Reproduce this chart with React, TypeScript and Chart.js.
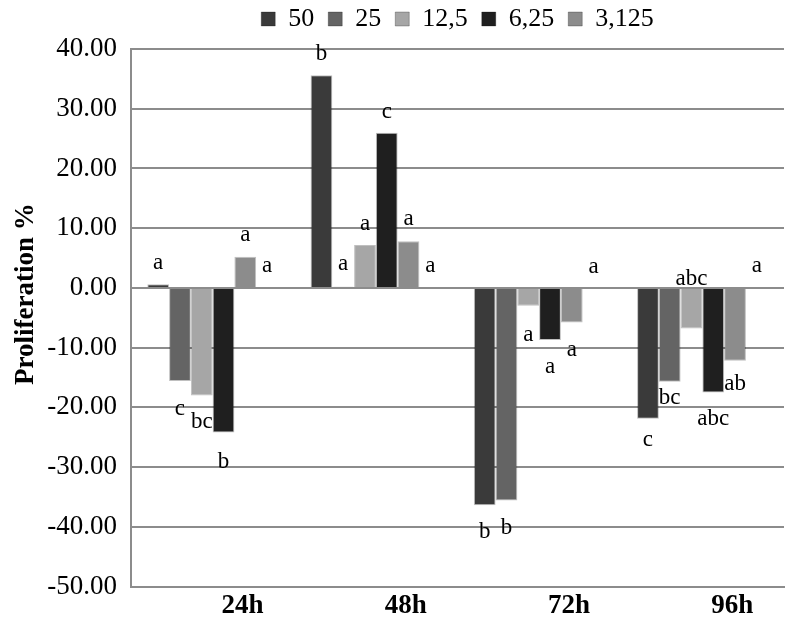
import React, { useEffect, useRef } from "react";
import { Chart, registerables } from "chart.js";

Chart.register(...registerables);

const categories = ["24h", "48h", "72h", "96h"];
const seriesNames = ["50", "25", "12,5", "6,25", "3,125", ""];
const seriesColors = ["#3a3a3a", "#646464", "#a6a6a6", "#1f1f1f", "#8c8c8c", "rgba(0,0,0,0)"];

const s50 = [0.6, 35.6, -36.4, -21.9];
const s25 = [-15.6, 0.2, -35.6, -15.7];
const s12_5 = [-18.0, 7.2, -3.0, -6.8];
const s6_25 = [-24.2, 26.0, -8.7, -17.5];
const s3_125 = [5.2, 7.8, -5.8, -12.2];
const sControl = [0, 0, 0, 0];
const seriesValues = [s50, s25, s12_5, s6_25, s3_125, sControl];

// significance letters per series (per category) and their anchor values (data units)
const letters50 = ["a", "b", "b", "c"];
const letters25 = ["c", "a", "b", "bc"];
const letters12_5 = ["bc", "a", "a", "abc"];
const letters6_25 = ["b", "c", "a", "abc"];
const letters3_125 = ["a", "a", "a", "ab"];
const lettersControl = ["a", "a", "a", "a"];
const letterSets = [letters50, letters25, letters12_5, letters6_25, letters3_125, lettersControl];

const letterY50 = [4.2, 39.2, -40.9, -25.5];
const letterY25 = [-20.2, 4.0, -40.1, -18.5];
const letterY12_5 = [-22.5, 10.7, -7.8, 1.5];
const letterY6_25 = [-29.2, 29.5, -13.2, -22.0];
const letterY3_125 = [8.8, 11.5, -10.4, -16.0];
const letterYControl = [3.7, 3.7, 3.5, 3.7];
const letterYSets = [letterY50, letterY25, letterY12_5, letterY6_25, letterY3_125, letterYControl];

const yTickMin = -50;
const yTickMax = 40;
const yTickStep = 10;
const yTitle = "Proliferation %";

const SERIF = "'Liberation Serif', 'Times New Roman', serif";

const lettersPlugin = {
  id: "letters",
  afterDatasetsDraw(chart: any) {
    const ctx = chart.ctx;
    const yScale = chart.scales.y;
    ctx.save();
    ctx.fillStyle = "#000";
    ctx.font = `23px ${SERIF}`;
    ctx.textAlign = "center";
    ctx.textBaseline = "middle";
    letterSets.forEach((set, i) => {
      const meta = chart.getDatasetMeta(i);
      set.forEach((txt, j) => {
        const el = meta.data[j];
        if (!el) return;
        ctx.fillText(txt, el.x, yScale.getPixelForValue(letterYSets[i][j]));
      });
    });
    ctx.restore();
  },
};

const legendSpacer = {
  id: "legendSpacer",
  beforeInit(chart: any) {
    const legend = chart.legend;
    if (!legend) return;
    const origFit = legend.fit;
    legend.fit = function () {
      origFit.call(this);
      this.height += 7;
    };
  },
};

export default function App() {
  const ref = useRef<HTMLCanvasElement>(null);
  useEffect(() => {
    document.body.style.margin = "0";
    const chart = new Chart(ref.current!, {
      type: "bar",
      data: {
        labels: categories,
        datasets: seriesValues.map((vals, i) => ({
          label: seriesNames[i],
          data: vals,
          backgroundColor: seriesColors[i],
          borderColor: i === 5 ? "rgba(0,0,0,0)" : "rgba(0,0,0,0.25)",
          borderWidth: 1,
          barPercentage: 1,
          categoryPercentage: 0.8,
        })),
      },
      options: {
        responsive: false,
        animation: false,
        layout: { padding: { left: 0, right: 3, top: -8, bottom: 1 } },
        plugins: {
          tooltip: { enabled: false },
          legend: {
            position: "top",
            fullSize: false,
            labels: {
              filter: (item: any) => item.text !== "",
              boxWidth: 14,
              boxHeight: 14,
              color: "#000",
              font: { family: SERIF, size: 26 },
              padding: 14,
            },
          },
        },
        scales: {
          x: {
            grid: { display: false, drawTicks: false },
            border: { color: "#8c8c8c", width: 2 },
            ticks: {
              color: "#000",
              font: { family: SERIF, size: 27, weight: "bold" },
              labelOffset: 30,
              padding: 3,
            },
          },
          y: {
            min: yTickMin,
            max: yTickMax,
            afterFit: (scale: any) => {
              scale.width = 131;
            },
            grid: { color: "#8c8c8c", lineWidth: 2, drawTicks: false },
            border: { color: "#8c8c8c", width: 2 },
            ticks: {
              stepSize: yTickStep,
              color: "#000",
              font: { family: SERIF, size: 27 },
              padding: 14,
              callback: (v: any) => Number(v).toFixed(2),
            },
            title: {
              display: true,
              text: "\u00a0\u00a0\u00a0\u00a0\u00a0\u00a0\u00a0" + yTitle,
              color: "#000",
              font: { family: SERIF, size: 27, weight: "bold" },
              padding: { top: 10, bottom: 0 },
            },
          },
        },
      },
      plugins: [lettersPlugin, legendSpacer],
    });
    return () => chart.destroy();
  }, []);
  return <canvas ref={ref} width={787} height={626} style={{ display: "block" }} />;
}
